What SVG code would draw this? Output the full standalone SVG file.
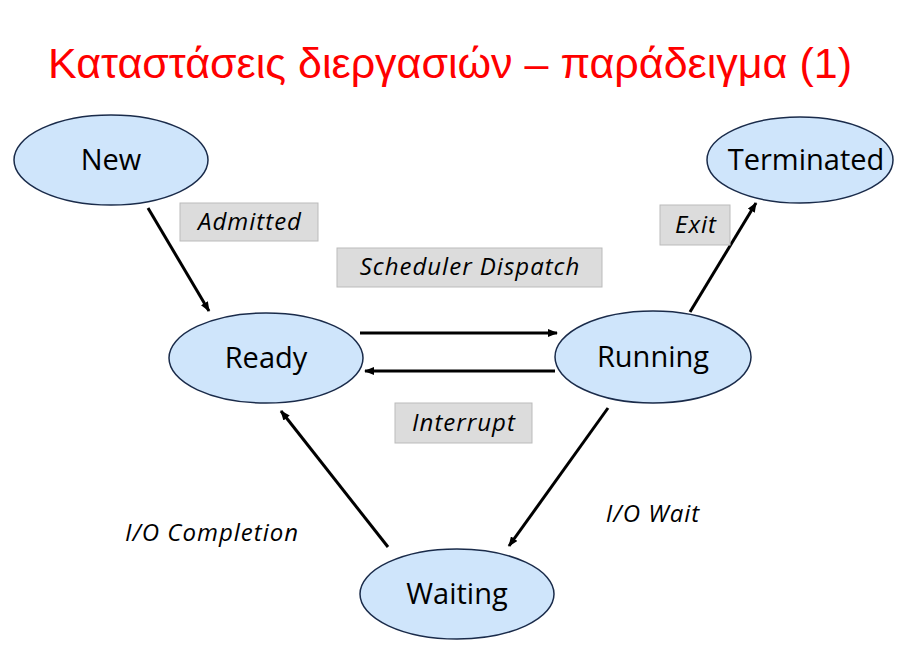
<svg xmlns="http://www.w3.org/2000/svg" width="914" height="651" viewBox="0 0 914 651">
<defs>
<marker id="ah" markerWidth="10" markerHeight="8" refX="9" refY="4" orient="auto" markerUnits="userSpaceOnUse"><path d="M0,0 L10,4 L0,8 z" fill="#000"/></marker>
<style>
.n{fill:#cfe5fb;stroke:#1a2b4a;stroke-width:1.5}
.t{font-family:"Open Sans","Liberation Sans",sans-serif;font-size:29px;text-anchor:middle;fill:#000}
.l{font-family:"Open Sans","Liberation Sans",sans-serif;font-size:24px;font-style:italic;letter-spacing:1px;text-anchor:middle;fill:#000}
.b{fill:#dcdcdc;stroke:#bbb;stroke-width:1}
.c{stroke:#000;stroke-width:3;fill:none;marker-end:url(#ah)}
</style>
</defs>
<rect width="914" height="651" fill="#fff"/>
<text x="450" y="78" font-family="Liberation Sans,Arial,sans-serif" font-size="43" fill="#f00" text-anchor="middle">Καταστάσεις διεργασιών – παράδειγμα (1)</text>
<g id="connectors">
<line class="c" x1="148" y1="208" x2="209" y2="311"/>
<line class="c" x1="360" y1="333" x2="557" y2="333"/>
<line class="c" x1="555" y1="371" x2="365" y2="371"/>
<line class="c" x1="690" y1="312" x2="756" y2="203"/>
<line class="c" x1="608" y1="408" x2="509" y2="546"/>
<line class="c" x1="388" y1="547" x2="281" y2="411"/>
</g>
<g id="new"><ellipse class="n" cx="111" cy="160" rx="97" ry="45"/><text class="t" x="111" y="170">New</text></g>
<g id="terminated"><ellipse class="n" cx="800" cy="160" rx="93" ry="43"/><text class="t" x="806" y="170">Terminated</text></g>
<g id="ready"><ellipse class="n" cx="266" cy="358" rx="97" ry="45"/><text class="t" x="266" y="368">Ready</text></g>
<g id="running"><ellipse class="n" cx="653" cy="357" rx="98" ry="46"/><text class="t" x="653" y="367">Running</text></g>
<g id="waiting"><ellipse class="n" cx="457" cy="594" rx="97" ry="45"/><text class="t" x="457" y="604">Waiting</text></g>
<g id="labels">
<rect class="b" x="180" y="203" width="138" height="38"/><text class="l" x="250" y="230">Admitted</text>
<rect class="b" x="337" y="248" width="265" height="39"/><text class="l" x="470" y="275">Scheduler Dispatch</text>
<rect class="b" x="395" y="403" width="137" height="40"/><text class="l" x="464" y="431">Interrupt</text>
<rect class="b" x="660" y="205" width="70" height="40"/><text class="l" x="696" y="233">Exit</text>
<text class="l" x="653" y="522">I/O Wait</text>
<text class="l" x="212" y="541">I/O Completion</text>
</g>
</svg>
